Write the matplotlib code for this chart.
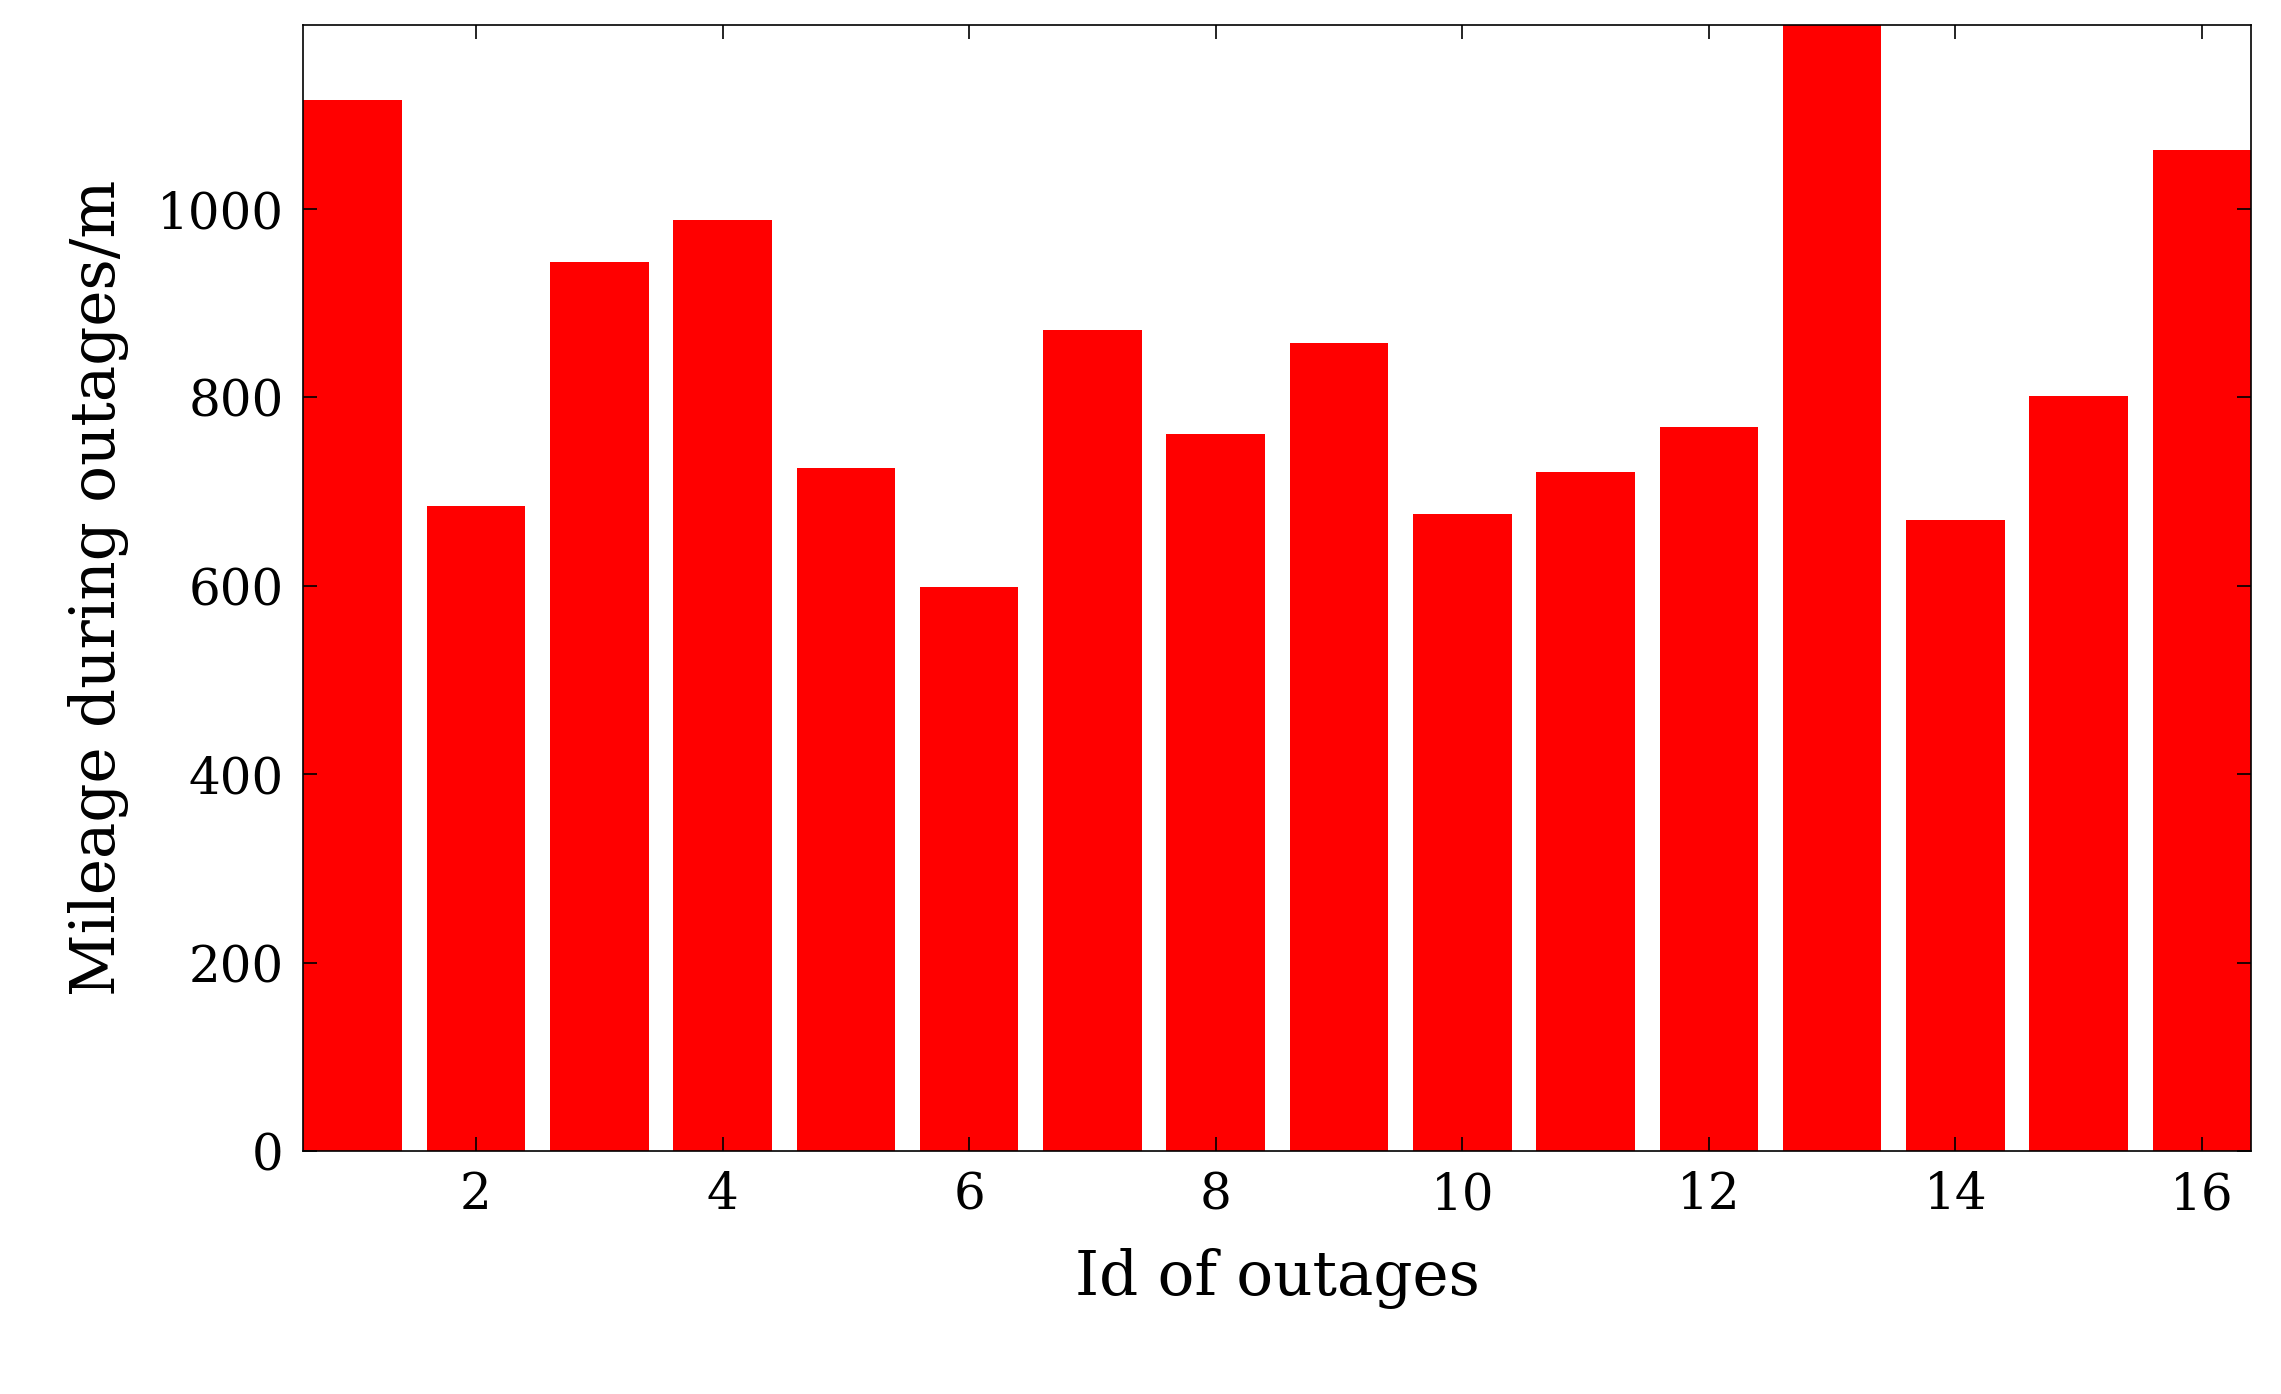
import matplotlib
matplotlib.use("Agg")
import matplotlib.pyplot as plt

ids = list(range(1, 17))
mileage = [1116, 685, 944, 988, 725, 599, 872, 761, 858, 676, 721, 769, 1250, 670, 802, 1063]
xticks = [2, 4, 6, 8, 10, 12, 14, 16]
yticks = [0, 200, 400, 600, 800, 1000]

plt.rcParams['font.family'] = ['DejaVu Serif']
fig = plt.figure(figsize=(22.81, 13.94), dpi=100)
ax = fig.add_axes([0.133, 0.174, 0.854, 0.808])
ax.bar(ids, mileage, width=0.8, color='#ff0000')
ax.set_xlim(0.6, 16.4)
ax.set_ylim(0, 1195)
ax.set_xticks(xticks)
ax.set_yticks(yticks)
ax.tick_params(direction='in', top=True, right=True, labelsize=36, length=10, width=1.2, pad=14)
for s in ax.spines.values():
    s.set_linewidth(1.2)
ax.set_xlabel('Id of outages', fontsize=44, labelpad=20)
ax.set_ylabel('Mileage during outages/m', fontsize=44, labelpad=20)
fig.savefig('out.png', dpi=100)
